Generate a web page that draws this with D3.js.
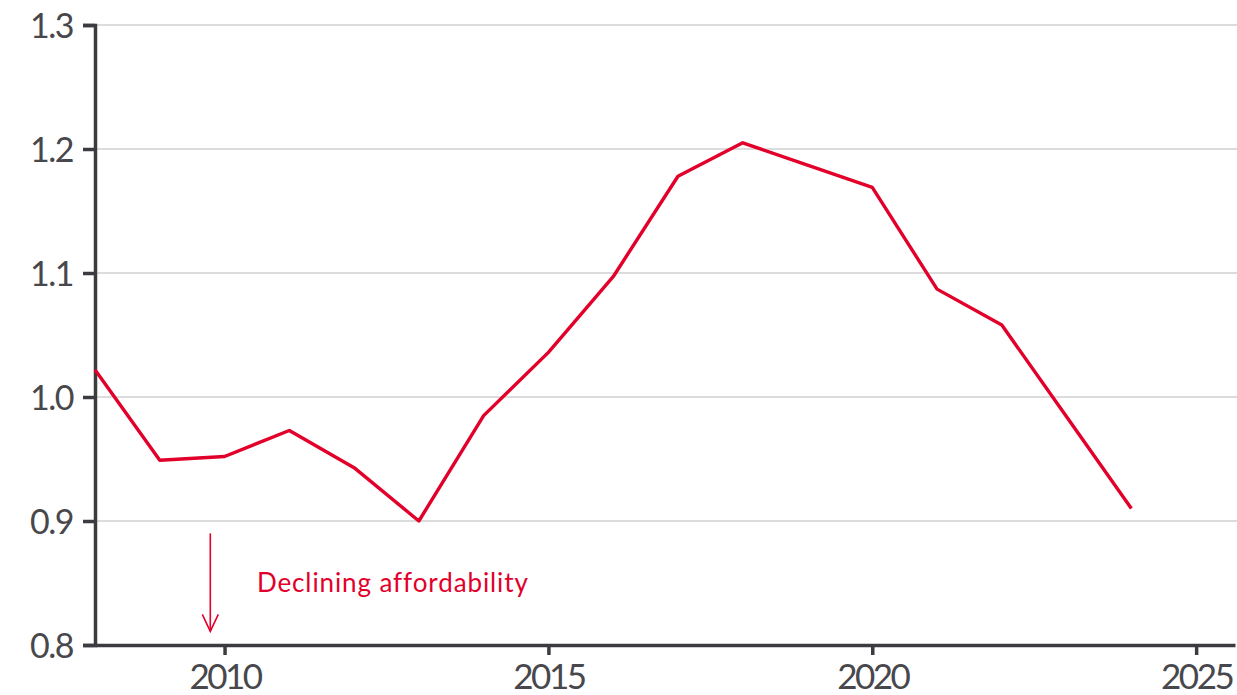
<!DOCTYPE html>
<html>
<head>
<meta charset="utf-8">
<script src="https://cdn.jsdelivr.net/npm/d3@7"></script>
<style>
  html, body { margin: 0; padding: 0; background: #fff; }
  svg { display: block; }
  svg text { font-family: Lato, "Open Sans", sans-serif; }
</style>
</head>
<body>
<svg id="chart" width="1237" height="695"></svg>
<script>
// Affordability index by year
const years = [2008, 2009, 2010, 2011, 2012, 2013, 2014, 2015, 2016, 2017, 2018, 2019, 2020, 2021, 2022, 2023, 2024];
const values = [1.022, 0.949, 0.952, 0.973, 0.943, 0.900, 0.985, 1.036, 1.097, 1.178, 1.205, 1.187, 1.169, 1.087, 1.058, 0.984, 0.910];
const yTicks = [0.8, 0.9, 1.0, 1.1, 1.2, 1.3];
const xTicks = [2010, 2015, 2020, 2025];
const annotationText = "Declining affordability";

const red = "#e2002b";
const axisColor = "#3c3b40";
const textColor = "#48474c";

const svg = d3.select("#chart");
const margin = { left: 95, right: 2, top: 25, bottom: 50 };
const width = 1237, height = 695;

const x = d3.scaleLinear().domain([2008, 2025.6]).range([margin.left, width - margin.right]);
const y = d3.scaleLinear().domain([0.8, 1.3]).range([height - margin.bottom, margin.top]);

// gridlines
svg.append("g")
  .selectAll("line")
  .data(yTicks.slice(1))
  .join("line")
  .attr("x1", x(2008)).attr("x2", width)
  .attr("y1", d => y(d)).attr("y2", d => y(d))
  .attr("stroke", "#dcdcdc").attr("stroke-width", 2);

// y axis
const yAxis = svg.append("g")
  .attr("transform", `translate(${x(2008)},0)`)
  .call(d3.axisLeft(y).tickValues(yTicks).tickFormat(d3.format(".1f")).tickSize(12).tickPadding(10));
yAxis.select(".domain").attr("stroke", axisColor).attr("stroke-width", 3.5);
yAxis.selectAll(".tick line").attr("stroke", axisColor).attr("stroke-width", 3.5);
yAxis.selectAll(".tick text")
  .attr("fill", textColor).attr("font-size", 34)
  .attr("dy", "0.36em").attr("letter-spacing", "-1.5");

// x axis
const xAxis = svg.append("g")
  .attr("transform", `translate(0,${y(0.8)})`)
  .call(d3.axisBottom(x).tickValues(xTicks).tickFormat(d3.format("d")).tickSize(10).tickSizeOuter(0).tickPadding(9));
xAxis.select(".domain").attr("stroke", axisColor).attr("stroke-width", 3.5);
xAxis.selectAll(".tick line").attr("stroke", axisColor).attr("stroke-width", 3.5);
xAxis.selectAll(".tick text")
  .attr("fill", textColor).attr("font-size", 35)
  .attr("letter-spacing", "-2.5");

// series line
const line = d3.line().x((d, i) => x(years[i])).y(d => y(d));
svg.append("path")
  .datum(values)
  .attr("d", line)
  .attr("fill", "none")
  .attr("stroke", red)
  .attr("stroke-width", 3.4)
  .attr("stroke-linejoin", "round");

// annotation arrow
const ax = x(2009.78);
const ay1 = y(0.890), ay2 = y(0.811);
const ann = svg.append("g").attr("stroke", red).attr("stroke-width", 1.6).attr("fill", "none");
ann.append("line").attr("x1", ax).attr("x2", ax).attr("y1", ay1).attr("y2", ay2);
ann.append("path").attr("d", `M${ax - 8},${ay2 - 17} L${ax},${ay2} L${ax + 8},${ay2 - 17}`);

svg.append("text")
  .attr("x", x(2010.5)).attr("y", y(0.8425))
  .attr("fill", red).attr("font-size", 26)
  .attr("letter-spacing", "0.9")
  .text(annotationText);
</script>
</body>
</html>
